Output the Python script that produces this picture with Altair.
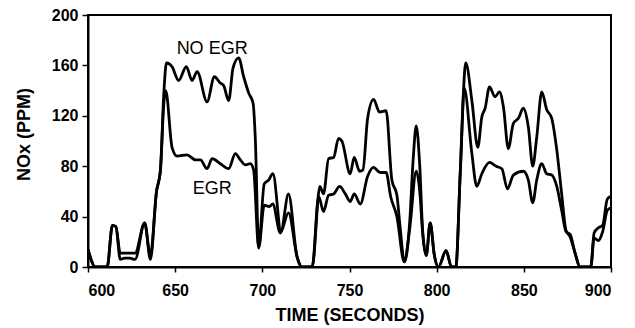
import altair as alt
import pandas as pd

# NO EGR series
t_noegr = [600, 602, 604, 611, 614, 616, 618.5, 621, 624, 627, 632.5, 635.8, 639.3, 641.5,
           643.5, 645, 648.2, 652, 656.4, 659.7, 662.6, 668.3, 672.5, 675.9, 677.8, 680.7,
           683.2, 686.4, 689.3, 692.2, 694.7, 696, 697.9, 701.1, 703.6, 706.1, 710.7, 715,
           719.9, 722.7, 728.6, 733, 735.1, 738, 740.9, 743.7, 745.6, 750.4, 752.7, 755.8,
           757.7, 760.4, 763.8, 767.2, 771, 774.3, 777.2, 779, 781.5, 784.5, 786.5, 788.3,
           790.3, 792, 794, 796.3, 798.6, 801, 805.4, 808.5, 811, 813.5, 816.7, 820.2,
           823.6, 825.9, 827.8, 830.3, 833.5, 836, 838.3, 841.1, 844, 846.9, 849.7, 852.6,
           855.1, 857.4, 860.3, 863.1, 866, 868.9, 871.7, 874.2, 876.5, 879.4, 882.2,
           888.4, 890.3, 892.7, 895.2, 897.9, 900]
v_noegr = [14, 5, 0, 0, 33, 32, 11, 11, 11, 11, 35, 9, 60, 76,
           138, 162, 159, 148, 159, 148, 155, 131, 151, 146, 144, 132,
           158, 166, 151, 138, 130, 101, 16, 66, 69, 74, 29, 58,
           8, 0, 0, 64, 58, 86, 87, 102, 100, 74, 87, 76,
           77, 118, 133, 123, 124, 69, 57, 32, 4, 35, 85, 112,
           80, 28, 9, 35, 10, 0, 13, 0, 0, 74, 162, 132,
           95, 119, 126, 143, 135, 139, 127, 94, 114, 118, 126, 111,
           80, 103, 139, 125, 118, 93, 58, 29, 24, 11, 0,
           0, 27, 31, 33, 54, 56]

# EGR series
t_egr = [600, 602, 604, 611, 614, 616, 618.5, 621, 624, 627, 632.5, 635.8, 639.3, 641.5,
         643.5, 644.6, 648.2, 651.1, 656.8, 661.6, 664.5, 668.3, 671.2, 675.9, 680.7,
         684.5, 687.4, 690.3, 693.1, 695, 697.9, 701.1, 704, 706, 710.3, 715, 720,
         722.7, 728.6, 732.3, 735.1, 738, 740.9, 744.3, 747.6, 750.4, 752.7, 756.2,
         760.4, 763.8, 767.6, 771, 773.6, 777.2, 781.4, 784.5, 788.3, 790.3, 792, 794,
         796.3, 798.6, 801, 805.4, 808.5, 811, 813.5, 815.8, 820.2, 823, 825.9, 830.3,
         834.1, 837.4, 840.6, 844, 849.7, 852.6, 855.1, 857.4, 860.3, 863.1, 866, 868.9,
         871.7, 874.2, 876.5, 879.4, 882.2, 888.4, 890.3, 892.7, 895.2, 897.9, 900]
v_egr = [14, 5, 0, 0, 33, 32, 6, 7, 7, 6, 35, 6, 60, 76,
         130, 140, 95, 88, 89, 85, 85, 78, 86, 82, 78,
         90, 85, 81, 82, 77, 15, 49, 48, 50, 27, 43, 8,
         0, 0, 56, 44, 57, 58, 64, 58, 52, 58, 50,
         72, 79, 75, 75, 56, 40, 4, 30, 76, 60, 26, 9,
         35, 10, 0, 13, 0, 0, 74, 142, 90, 64, 74, 83,
         80, 78, 62, 73, 76, 69, 51, 69, 82, 74, 73, 64,
         45, 28, 26, 11, 0, 0, 23, 21, 28, 45, 47]

label_text = ["NO EGR", "EGR"]
label_x = [671.2, 671.3]
label_y = [173.4, 62.3]

x_ticks = [600, 650, 700, 750, 800, 850, 900]
y_ticks = [0, 40, 80, 120, 160, 200]

df = pd.concat([
    pd.DataFrame({"t": t_noegr, "v": v_noegr, "s": "NO EGR"}),
    pd.DataFrame({"t": t_egr, "v": v_egr, "s": "EGR"}),
])
lab = pd.DataFrame({"text": label_text, "x": label_x, "y": label_y})

FONT = "Liberation Sans"

xscale = alt.Scale(domain=[600, 900], nice=False, zero=False)
yscale = alt.Scale(domain=[0, 200], nice=False)

lines = alt.Chart(df).mark_line(strokeWidth=2.8, interpolate="monotone", clip=True).encode(
    x=alt.X("t:Q", scale=xscale,
            axis=alt.Axis(values=x_ticks, title="TIME (SECONDS)", titleY=53,
                          titleBaseline="alphabetic", labelPadding=10, tickSize=5)),
    y=alt.Y("v:Q", scale=yscale,
            axis=alt.Axis(values=y_ticks, title="NOx (PPM)", titleX=-59, titleY=119,
                          titleBaseline="alphabetic", titleAngle=-90, labelPadding=4, tickSize=6)),
    detail="s:N",
    color=alt.value("black"),
)

labels = alt.Chart(lab).mark_text(font=FONT, fontSize=18, color="black").encode(
    x=alt.X("x:Q", scale=xscale),
    y=alt.Y("y:Q", scale=yscale),
    text="text:N",
)

chart = alt.layer(lines, labels).properties(
    width=523, height=252,
    autosize=alt.AutoSizeParams(type="none"),
    padding={"left": 88, "top": 15, "right": 24, "bottom": 61},
    background="white",
).configure_view(
    stroke="black", strokeWidth=2
).configure_axis(
    grid=False,
    domainColor="black", domainWidth=2,
    tickColor="black", tickWidth=1.5,
    labelFont=FONT, labelFontSize=16, labelColor="black", labelFontWeight="bold",
    titleFont=FONT, titleFontSize=18, titleColor="black", titleFontWeight="bold",
)

chart.save("out.html", embed_options={"renderer": "svg", "actions": False})
